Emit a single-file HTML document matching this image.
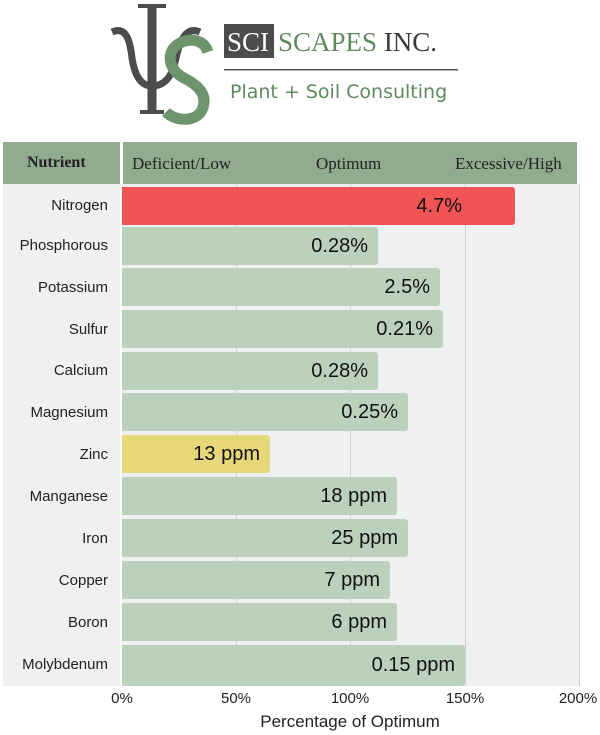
<!DOCTYPE html>
<html><head><meta charset="utf-8"><style>
body{margin:0;width:600px;height:735px;background:#fff;position:relative;overflow:hidden;font-family:"Liberation Sans",sans-serif}
.a{position:absolute}
.lbl{position:absolute;right:492px;font-size:15px;color:#222;line-height:20px}
.bar{position:absolute;left:122px;height:38px;background:#bcd1bb;border-radius:0 3px 3px 0}
.val{position:absolute;font-size:20px;color:#111;line-height:38px;text-align:right}
.g{position:absolute;top:184px;height:502px;width:1px;background:#cfd0d3}
.t{position:absolute;top:690px;font-size:15px;color:#222;width:60px;text-align:center}
.h{font-family:"Liberation Serif",serif;font-size:17px;color:#222;position:absolute;top:154px}
</style></head><body>
<!-- logo -->
<svg class="a" style="left:100px;top:0" width="380" height="130">
<g fill="none" stroke="#4a4d4c">
<path d="M52 8 V112" stroke-width="9"/>
<path d="M38 6 H66" stroke-width="4"/>
<path d="M40 112 H64" stroke-width="4"/>
<path d="M12 32 C26 26 30 40 32 58 C35 78 42 86 52 86" stroke-width="7"/>
<path d="M100 32 C86 26 80 40 76 58 C72 78 64 86 52 86" stroke-width="7"/>
</g>
<path d="M108 52 C104 40 92 38 82 42 C64 50 68 70 84 78 C100 86 108 96 102 110 C96 122 76 122 66 112" fill="none" stroke="#6e946d" stroke-width="11"/>
<rect x="124" y="24" width="50" height="34" fill="#4b4c4b"/>
<text x="127" y="51" font-family="Liberation Serif" font-size="27" fill="#fff">SCI</text>
<text x="178" y="51" font-family="Liberation Serif" font-size="27" fill="#5f8a5f">SCAPES <tspan fill="#3a3a3a">INC.</tspan></text>
<rect x="124" y="69" width="234" height="1.5" fill="#555"/>
<text x="130" y="98" font-family="DejaVu Sans" font-size="19" fill="#5f8a5f">Plant + Soil Consulting</text>
</svg>
<!-- header -->
<div class="a" style="left:3px;top:142px;width:117px;height:42px;background:#91ab8f"></div>
<div class="a" style="left:123px;top:142px;width:454px;height:42px;background:#91ab8f"></div>
<div class="h" style="left:27px;font-weight:bold;font-size:16px">Nutrient</div>
<div class="h" style="left:132px">Deficient/Low</div>
<div class="h" style="left:316px">Optimum</div>
<div class="h" style="left:455px">Excessive/High</div>
<!-- plot bg -->
<div class="a" style="left:3px;top:184px;width:577px;height:502px;background:#eff0f2"></div>
<div class="g" style="left:236px"></div><div class="g" style="left:350px"></div><div class="g" style="left:465px"></div><div class="g" style="left:579px"></div>
<div class="a" style="left:120px;top:184px;width:2px;height:502px;background:#fff"></div>

<div class="bar" style="top:187px;width:393px;background:#f05454"></div><div class="val" style="top:187px;left:300px;width:162px">4.7%</div><div class="lbl" style="top:196px">Nitrogen</div>
<div class="bar" style="top:227px;width:256px"></div><div class="val" style="top:227px;left:200px;width:168px">0.28%</div><div class="lbl" style="top:236px">Phosphorous</div>
<div class="bar" style="top:268px;width:318px"></div><div class="val" style="top:268px;left:200px;width:230px">2.5%</div><div class="lbl" style="top:278px">Potassium</div>
<div class="bar" style="top:310px;width:321px"></div><div class="val" style="top:310px;left:200px;width:233px">0.21%</div><div class="lbl" style="top:320px">Sulfur</div>
<div class="bar" style="top:352px;width:256px"></div><div class="val" style="top:352px;left:200px;width:168px">0.28%</div><div class="lbl" style="top:361px">Calcium</div>
<div class="bar" style="top:393px;width:286px"></div><div class="val" style="top:393px;left:200px;width:198px">0.25%</div><div class="lbl" style="top:403px">Magnesium</div>
<div class="bar" style="top:435px;width:148px;background:#e6d77a"></div><div class="val" style="top:435px;left:150px;width:110px">13 ppm</div><div class="lbl" style="top:445px">Zinc</div>
<div class="bar" style="top:477px;width:275px"></div><div class="val" style="top:477px;left:200px;width:187px">18 ppm</div><div class="lbl" style="top:487px">Manganese</div>
<div class="bar" style="top:519px;width:286px"></div><div class="val" style="top:519px;left:200px;width:198px">25 ppm</div><div class="lbl" style="top:529px">Iron</div>
<div class="bar" style="top:561px;width:268px"></div><div class="val" style="top:561px;left:200px;width:180px">7 ppm</div><div class="lbl" style="top:571px">Copper</div>
<div class="bar" style="top:603px;width:275px"></div><div class="val" style="top:603px;left:200px;width:187px">6 ppm</div><div class="lbl" style="top:613px">Boron</div>
<div class="bar" style="top:645px;width:343px;height:41px"></div><div class="val" style="top:646px;left:200px;width:255px">0.15 ppm</div><div class="lbl" style="top:655px">Molybdenum</div>

<div class="t" style="left:92px">0%</div><div class="t" style="left:206px">50%</div><div class="t" style="left:320px">100%</div><div class="t" style="left:435px">150%</div><div class="t" style="left:548px">200%</div>
<div class="a" style="left:200px;top:712px;width:300px;text-align:center;font-size:17px;color:#222">Percentage of Optimum</div>
</body></html>
